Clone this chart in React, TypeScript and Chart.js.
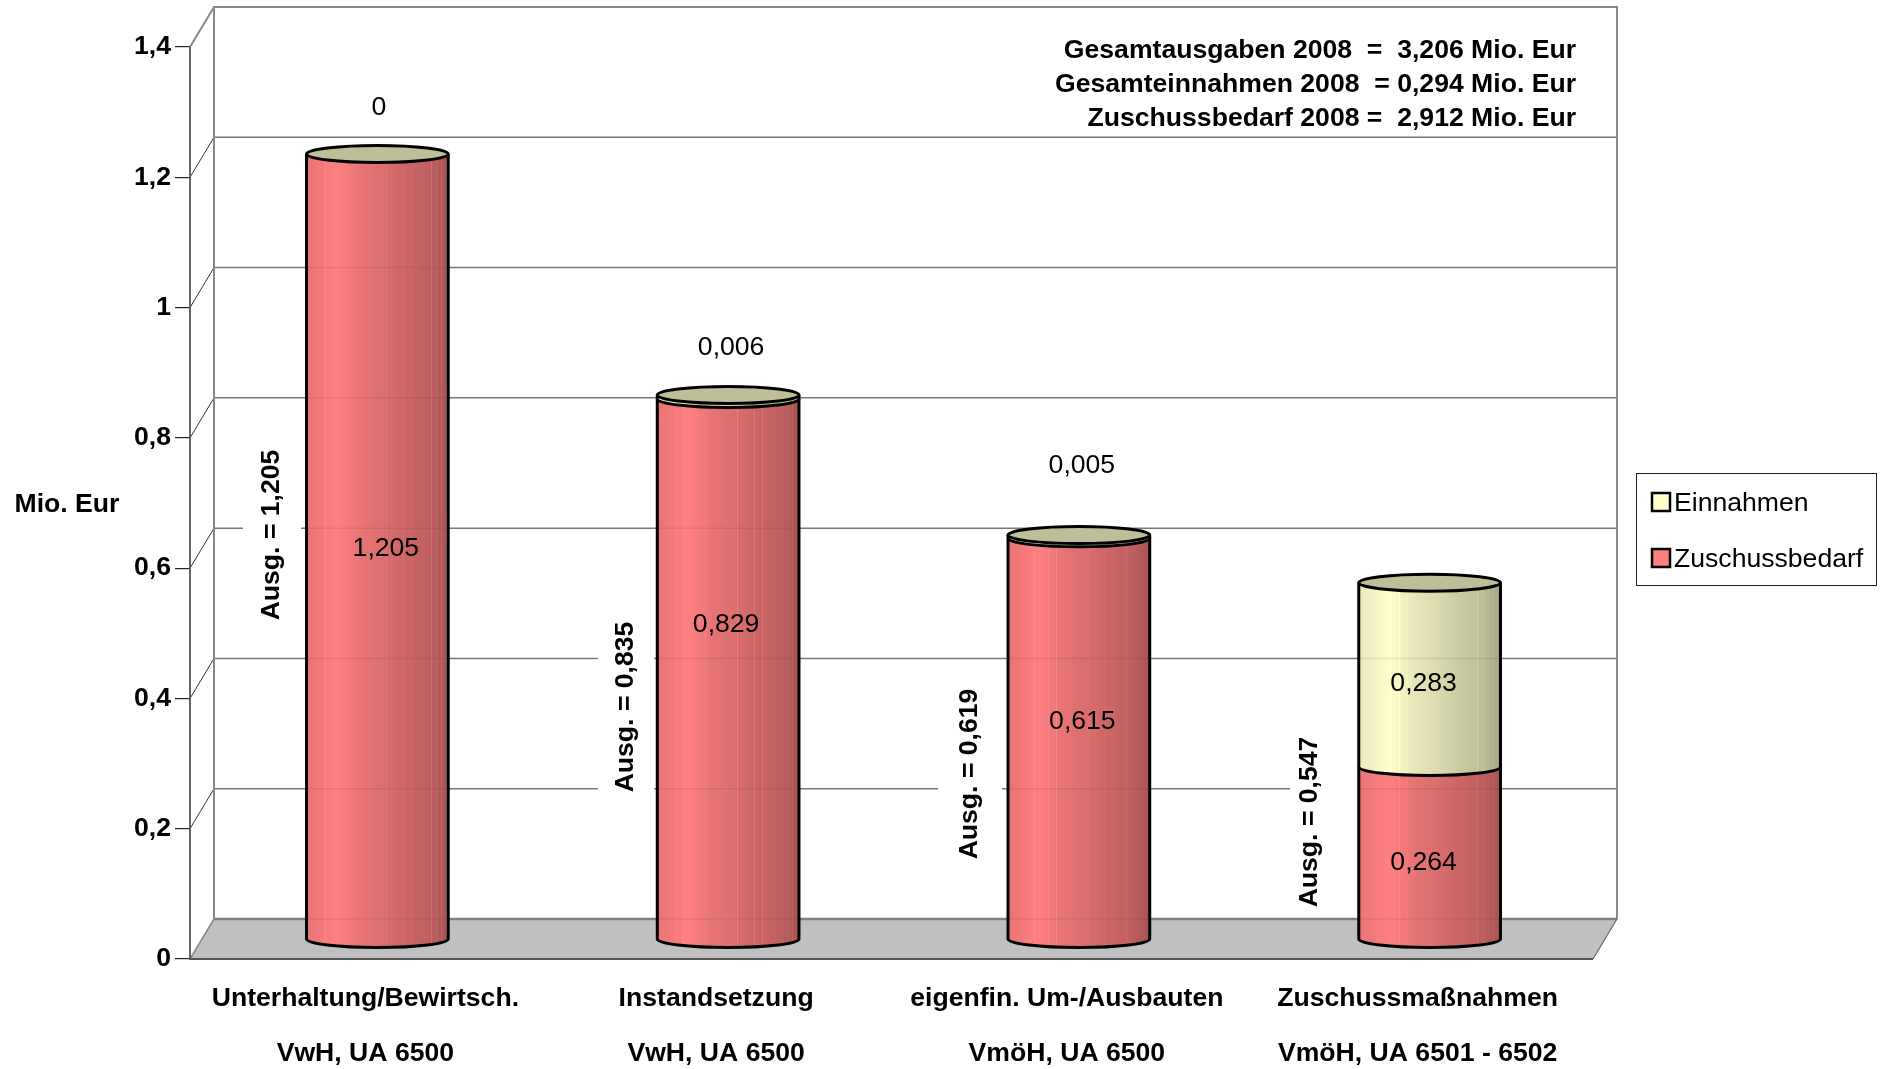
import React, { useEffect, useRef } from "react";
import { Chart, registerables } from "chart.js";

Chart.register(...registerables);

const categories = [
  ["Unterhaltung/Bewirtsch.", "VwH, UA 6500"],
  ["Instandsetzung", "VwH, UA 6500"],
  ["eigenfin. Um-/Ausbauten", "VmöH, UA 6500"],
  ["Zuschussmaßnahmen", "VmöH, UA 6501 - 6502"],
];
const zuschussbedarf = [1.205, 0.829, 0.615, 0.264];
const einnahmen = [0, 0.006, 0.005, 0.283];
const ausgaben = [1.205, 0.835, 0.619, 0.547];
const yTickValues = [0, 0.2, 0.4, 0.6, 0.8, 1, 1.2, 1.4];
const yTickLabels = ["0", "0,2", "0,4", "0,6", "0,8", "1", "1,2", "1,4"];
const summaryLines = [
  "Gesamtausgaben 2008  =  3,206 Mio. Eur",
  "Gesamteinnahmen 2008  = 0,294 Mio. Eur",
  "Zuschussbedarf 2008 =  2,912 Mio. Eur",
];
const fmt = (v: number) => String(v).replace(".", ",");

// Layout
const W = 1881, H = 1069;
const TOP = 7, BOTTOM = 959, LEFT = 190, RIGHT = 1617;
const DX = 24, DY = 40;
const PX_PER_CAT = (RIGHT - DX - LEFT) / 4;
const PX_PER_UNIT = (BOTTOM - DY - TOP) / 1.4;
const SPAN_Y = (BOTTOM - TOP) / PX_PER_UNIT;
const DU_X = DX / PX_PER_CAT, DU_Y = DY / PX_PER_UNIT;
const RY = 8.5;
const FONT = '"Liberation Sans", Arial, sans-serif';
const FS = 26.6;

// Hand-placed label nudges of the original (px relative to the bar)
const innerDx = [8.5, -2, 3.5, -6];
const innerDy = [2, -44, -17, 10];
const innerTopDy = [0, 0, 0, 9];
const topLabelDx = [1.5, 3, 3];
const topLabelDy = [-46, -47, -69];
const ausgX = [272, 626, 970, 1310];
const ausgBoxW = [58, 56, 64, 70];
const ausgY = [535, 707, 774, 822];

const profile: [number, number][] = [[0, 0.91], [0.22, 1], [0.4, 0.9], [0.55, 0.86], [0.7, 0.8], [0.85, 0.75], [1, 0.66]];
const hairlines = [0.134, 0.186, 0.287, 0.342, 0.566, 0.686, 0.743, 0.837, 0.882, 0.918, 0.953];
const shadeAt = (p: number) => {
  for (let i = 1; i < profile.length; i++) {
    if (p <= profile[i][0]) {
      const [a, fa] = profile[i - 1], [b, fb] = profile[i];
      return fa + ((fb - fa) * (p - a)) / (b - a);
    }
  }
  return 0.66;
};
const rgb = (c: number[], f: number) => `rgb(${c.map((v) => Math.min(255, Math.round(v * f))).join(",")})`;
const RED = [255, 128, 128], CREAM = [255, 255, 204];

function cylGradient(ctx: CanvasRenderingContext2D, x0: number, x1: number, base: number[]) {
  const g = ctx.createLinearGradient(x0, 0, x1, 0);
  const stops: [number, number][] = profile.map(([p, f]) => [p, f]);
  hairlines.forEach((p) => {
    stops.push([p - 0.003, shadeAt(p - 0.003)], [p, shadeAt(p) + 0.1], [p + 0.003, shadeAt(p + 0.003)]);
  });
  stops.sort((a, b) => a[0] - b[0]).forEach(([p, f]) => g.addColorStop(p, rgb(base, f)));
  return g;
}

const threeD = {
  id: "threeD",
  beforeDatasetsDraw(chart: any) {
    const { ctx, chartArea: a, scales } = chart;
    const yF = scales.y, yB = scales.yBack;
    const bl = a.left + DX, br = a.right, fr = a.right - DX;
    const line = (pts: number[][], color: string, w: number) => {
      ctx.beginPath();
      pts.forEach(([x, y], i) => (i ? ctx.lineTo(x, y) : ctx.moveTo(x, y)));
      ctx.strokeStyle = color;
      ctx.lineWidth = w;
      ctx.stroke();
    };
    ctx.save();
    // floor
    const f0 = yF.getPixelForValue(0), b0 = yB.getPixelForValue(0);
    ctx.beginPath();
    ctx.moveTo(a.left, f0); ctx.lineTo(bl, b0); ctx.lineTo(br, b0); ctx.lineTo(fr, f0); ctx.closePath();
    ctx.fillStyle = "#c0c0c0";
    ctx.fill();
    // grid
    yTickValues.forEach((v) => {
      const yb = yB.getPixelForValue(v), yf = yF.getPixelForValue(v);
      if (v > 0 && v < 1.4) line([[bl, yb], [br, yb]], "#777777", 1.5);
      if (v > 0 && v < 1.4) line([[a.left, yf], [bl, yb]], "#333333", 1);
    });
    // walls
    const bTop = yB.getPixelForValue(1.4), fTop = yF.getPixelForValue(1.4);
    line([[bl, b0], [bl, bTop], [br, bTop], [br, b0]], "#888888", 2);
    line([[bl, b0], [br, b0]], "#808080", 2.5);
    line([[a.left, fTop], [bl, bTop]], "#888888", 2);
    line([[a.left, f0], [bl, b0]], "#888888", 1.5);
    line([[fr, f0], [br, b0]], "#666666", 1.2);
    line([[a.left, fTop], [a.left, f0], [fr, f0]], "#555555", 1.8);
    // white text boxes over the grid
    ctx.fillStyle = "#ffffff";
    ausgaben.forEach((_, i) => {
      ctx.fillRect(ausgX[i] - ausgBoxW[i] / 2 + (i === 3 ? 15 : 0), ausgY[i] - 88, ausgBoxW[i], 176);
    });
    ctx.restore();
  },
  afterDatasetsDraw(chart: any) {
    const { ctx, scales } = chart;
    const yB = scales.yBack;
    const m0 = chart.getDatasetMeta(0).data, m1 = chart.getDatasetMeta(1).data;
    ctx.save();
    const outline = (lw: number) => {
      ctx.strokeStyle = "#000000";
      ctx.lineWidth = lw;
      ctx.stroke();
    };
    categories.forEach((_, i) => {
      const e0 = m0[i], e1 = m1[i];
      const w = e0.width, x = e0.x, rx = w / 2, l = x - rx, r = x + rx;
      const segs = [
        { top: e0.y, base: e0.base, c: RED },
        { top: e1.y, base: e1.base, c: CREAM },
      ];
      segs.forEach((s, k) => {
        if (k === 1 && einnahmen[i] === 0) return;
        ctx.beginPath();
        ctx.ellipse(x, s.base, rx, RY, 0, 0, Math.PI);
        ctx.closePath();
        ctx.fillStyle = cylGradient(ctx, l, r, s.c);
        ctx.fill();
        ctx.beginPath();
        ctx.ellipse(x, s.base, rx, RY, 0, 0, Math.PI);
        outline(3);
      });
      const topY = e1.y, baseY = e0.base;
      // faint grid seen through the semi-transparent body
      yTickValues.forEach((v) => {
        const gy = yB.getPixelForValue(v);
        if (gy > topY + RY && gy < baseY) {
          ctx.beginPath();
          ctx.moveTo(l, gy); ctx.lineTo(r, gy);
          ctx.strokeStyle = "rgba(90,60,60,0.13)";
          ctx.lineWidth = 1.5;
          ctx.stroke();
        }
      });
      // sides
      ctx.beginPath();
      ctx.moveTo(l, topY); ctx.lineTo(l, baseY); ctx.moveTo(r, topY); ctx.lineTo(r, baseY);
      outline(3);
      // top
      ctx.beginPath();
      ctx.ellipse(x, topY, rx, RY, 0, 0, Math.PI * 2);
      ctx.fillStyle = "#bebe98";
      ctx.fill();
      outline(3);

      // value labels
      ctx.fillStyle = "#000000";
      ctx.textAlign = "center";
      ctx.textBaseline = "middle";
      ctx.font = `${FS}px ${FONT}`;
      ctx.fillText(fmt(zuschussbedarf[i]), x + innerDx[i], (e0.y + e0.base) / 2 + innerDy[i]);
      if (i < 3) ctx.fillText(fmt(einnahmen[i]), x + topLabelDx[i], topY + topLabelDy[i]);
      else ctx.fillText(fmt(einnahmen[i]), x + innerDx[i], (e1.y + e1.base) / 2 + innerTopDy[i]);

      // rotated total
      ctx.save();
      ctx.font = `bold ${FS}px ${FONT}`;
      ctx.translate(ausgX[i], ausgY[i]);
      ctx.rotate(-Math.PI / 2);
      ctx.fillText(`Ausg. = ${fmt(ausgaben[i])}`, 0, 0);
      ctx.restore();
    });

    // axis title
    ctx.fillStyle = "#000000";
    ctx.font = `bold ${FS}px ${FONT}`;
    ctx.textAlign = "center";
    ctx.textBaseline = "middle";
    ctx.fillText("Mio. Eur", 67, 505);

    // summary
    ctx.textAlign = "right";
    summaryLines.forEach((t, i) => ctx.fillText(t, 1576, 51 + i * 33.7));

    // legend
    ctx.fillStyle = "#ffffff";
    ctx.fillRect(1636, 473, 240, 112);
    ctx.strokeStyle = "#222222";
    ctx.lineWidth = 1;
    ctx.strokeRect(1636.5, 473.5, 240, 112);
    const items = [chart.data.datasets[1], chart.data.datasets[0]];
    const swatch = ["#ffffcc", "#ff8080"];
    items.forEach((d: any, i: number) => {
      const cy = 502 + i * 56;
      ctx.fillStyle = swatch[i];
      ctx.fillRect(1652, cy - 9, 18, 18);
      ctx.strokeStyle = "#000000";
      ctx.lineWidth = 2.5;
      ctx.strokeRect(1652, cy - 9, 18, 18);
      ctx.fillStyle = "#000000";
      ctx.font = `${FS}px ${FONT}`;
      ctx.textAlign = "left";
      ctx.fillText(d.label, 1674, cy + 2);
    });
    ctx.restore();
  },
};

const barColor = (base: number[]) => (c: any) => {
  if (c.type !== "data" || !c.parsed) return rgb(base, 1);
  const s = c.chart.scales.xMid;
  const x = s.getPixelForValue(c.parsed.x), half = (PX_PER_CAT * 0.404) / 2;
  if (!Number.isFinite(x)) return rgb(base, 1);
  return cylGradient(c.chart.ctx, x - half, x + half, base);
};

export default function App() {
  const ref = useRef<HTMLCanvasElement>(null);
  useEffect(() => {
    const chart = new Chart(ref.current!, {
      type: "bar",
      data: {
        datasets: [
          {
            label: "Zuschussbedarf",
            data: zuschussbedarf.map((y, x) => ({ x, y })),
            backgroundColor: barColor(RED),
            xAxisID: "xMid",
            yAxisID: "yMid",
            barPercentage: 0.404,
            categoryPercentage: 1,
          },
          {
            label: "Einnahmen",
            data: einnahmen.map((y, x) => ({ x, y })),
            backgroundColor: barColor(CREAM),
            xAxisID: "xMid",
            yAxisID: "yMid",
            barPercentage: 0.404,
            categoryPercentage: 1,
          },
        ],
      },
      options: {
        responsive: false,
        animation: false,
        events: [],
        layout: { padding: { left: 0, top: TOP, right: W - RIGHT, bottom: 0 } },
        plugins: { legend: { display: false }, title: { display: false }, tooltip: { enabled: false } },
        scales: {
          x: {
            type: "linear",
            position: "bottom",
            offset: false,
            min: -0.5,
            max: 3.5 + DU_X,
            afterBuildTicks: (s: any) => { s.ticks = categories.map((_, i) => ({ value: i })); },
            afterFit: (s: any) => { s.height = H - BOTTOM; s.paddingLeft = 0; s.paddingRight = 0; },
            grid: { display: false },
            border: { display: false },
            ticks: {
              autoSkip: false,
              maxRotation: 0,
              padding: 4,
              color: "#000",
              font: { family: FONT, size: FS, weight: "bold", lineHeight: 55 / FS },
              callback: (_: any, i: number) => categories[i],
            },
          },
          y: {
            type: "linear",
            position: "left",
            min: 0,
            max: SPAN_Y,
            afterBuildTicks: (s: any) => { s.ticks = yTickValues.map((value) => ({ value })); },
            afterFit: (s: any) => { s.width = LEFT; s.paddingTop = 0; s.paddingBottom = 0; },
            grid: { drawOnChartArea: false, drawTicks: true, tickLength: 15, color: "#222222", lineWidth: 1.2 },
            border: { display: false },
            ticks: {
              autoSkip: false,
              padding: 4,
              color: "#000",
              font: { family: FONT, size: FS, weight: "bold" },
              callback: (_: any, i: number) => yTickLabels[i],
            },
          },
          xMid: {
            type: "linear",
            display: false,
            offset: false,
            stacked: true,
            min: -0.5 - DU_X / 2,
            max: 3.5 + DU_X / 2,
            afterBuildTicks: (s: any) => { s.ticks = categories.map((_, i) => ({ value: i })); },
          },
          yMid: { type: "linear", display: false, stacked: true, min: -DU_Y / 2, max: SPAN_Y - DU_Y / 2 },
          yBack: { type: "linear", display: false, min: -DU_Y, max: SPAN_Y - DU_Y },
        },
      },
      plugins: [threeD],
    } as any);
    return () => chart.destroy();
  }, []);
  return (
    <canvas
      ref={ref}
      width={W}
      height={H}
      style={{ position: "absolute", left: 0, top: 0, width: W, height: H, display: "block", background: "#fff" }}
    />
  );
}
